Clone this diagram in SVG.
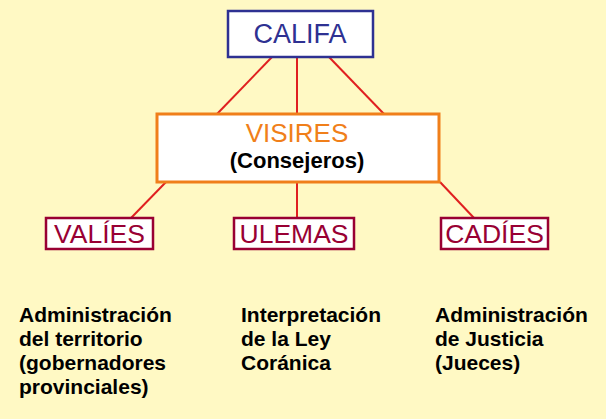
<svg xmlns="http://www.w3.org/2000/svg" width="606" height="419" viewBox="0 0 606 419">
<style>
.t{font-family:"Liberation Sans",Arial,sans-serif;text-anchor:middle}
.sub{fill:#fff;stroke:#990033;stroke-width:2.5}
.st{fill:#990033;font-size:26.500px}
.d{font-family:"Liberation Sans",Arial,sans-serif;font-size:21px;font-weight:bold;fill:#000}
</style>
<rect width="606" height="419" fill="#FFF9C4"/>
<g id="connectors" stroke="#E02020" stroke-width="2">
<line x1="272" y1="57" x2="217" y2="114"/>
<line x1="297" y1="57" x2="297" y2="114"/>
<line x1="329" y1="57" x2="384" y2="114"/>
<line x1="166" y1="182" x2="131" y2="218"/>
<line x1="297" y1="182" x2="297" y2="218"/>
<line x1="440" y1="182" x2="474" y2="218"/>
</g>
<g id="califa"><rect x="228" y="11" width="145" height="46" fill="#fff" stroke="#2E3192" stroke-width="2.5"/><text class="t" x="300" y="43" font-size="27" fill="#2E3192">CALIFA</text></g>
<g id="visires"><rect x="157" y="114" width="282" height="68" fill="#fff" stroke="#F07F1A" stroke-width="3"/><text class="t" x="297" y="142" font-size="26" fill="#F07F1A">VISIRES</text><text class="t" x="297" y="168" font-size="22" font-weight="bold" fill="#000">(Consejeros)</text></g>
<g id="valies"><rect class="sub" x="46" y="218" width="107" height="31"/><text class="t st" x="99.500" y="243">VALÍES</text></g>
<g id="ulemas"><rect class="sub" x="234" y="218" width="120" height="31"/><text class="t st" x="294" y="243">ULEMAS</text></g>
<g id="cadies"><rect class="sub" x="441" y="218" width="107" height="31"/><text class="t st" x="494.500" y="243">CADÍES</text></g>
<g id="texts">
<text class="d" x="19" y="322">Administración<tspan x="19" dy="24">del territorio</tspan><tspan x="19" dy="24">(gobernadores</tspan><tspan x="19" dy="24">provinciales)</tspan></text>
<text class="d" x="241" y="322">Interpretación<tspan x="241" dy="24">de la Ley</tspan><tspan x="241" dy="24">Coránica</tspan></text>
<text class="d" x="435" y="322">Administración<tspan x="435" dy="24">de Justicia</tspan><tspan x="435" dy="24">(Jueces)</tspan></text>
</g>
</svg>
